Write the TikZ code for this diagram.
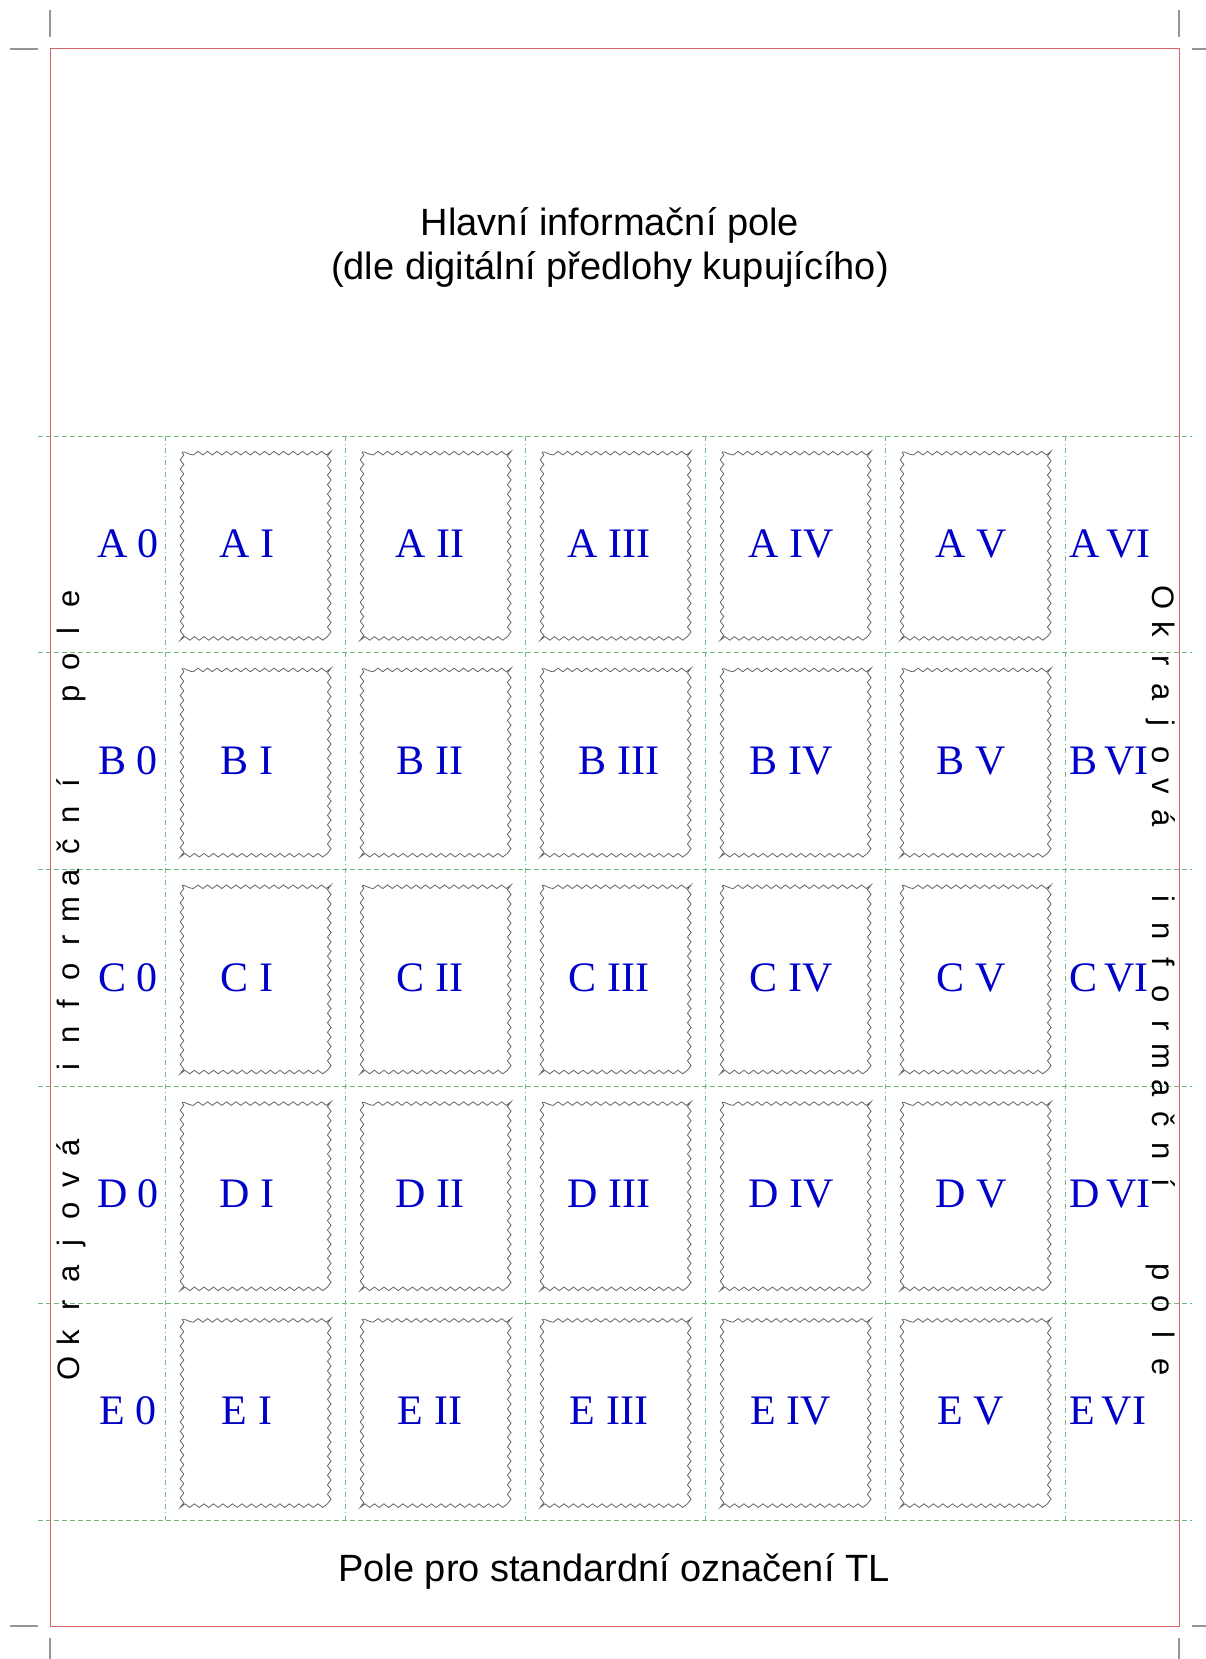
\documentclass[tikz,border=0pt]{standalone}
\usepackage{fontspec}
\setmainfont{Liberation Serif}
\newfontfamily\arialfont{Liberation Sans}
\usetikzlibrary{decorations.pathmorphing}

\definecolor{framered}{RGB}{214,98,98}
\definecolor{gridgreen}{RGB}{112,186,130}
\definecolor{labelblue}{RGB}{0,0,200}
\definecolor{cropgray}{RGB}{150,150,150}
\definecolor{stampgray}{RGB}{100,100,100}

% one letter per fixed slot
\newcommand\tracked[1]{\foreach \ch in {#1}{\makebox[31.5pt]{\ch}}}

\tikzset{
  hgrid/.style={gridgreen, line width=0.9pt, dash pattern=on 5pt off 3pt},
  vgrid/.style={gridgreen, line width=0.9pt, dash pattern=on 5pt off 3pt on 1pt off 3pt},
  perforated/.style={stampgray, line width=0.8pt, decorate,
    decoration={snake, segment length=9.5pt, amplitude=1.8pt}},
  cropmark/.style={cropgray, line width=1.4pt},
  cellname/.style={labelblue, font=\fontsize{42}{48}\selectfont, inner sep=0pt},
  infotext/.style={font=\arialfont\fontsize{38}{44}\selectfont, inner sep=0pt},
  sidetext/.style={font=\arialfont\fontsize{31}{36}\selectfont, inner sep=0pt},
}

\begin{document}
\begin{tikzpicture}[x=1pt, y=-1pt]
	\useasboundingbox (0,0) rectangle (1206,1659);
	% crop marks
	\draw[cropmark] (50,10) -- (50,37);
	\draw[cropmark] (10,49) -- (38,49);
	\draw[cropmark] (1179,10) -- (1179,37);
	\draw[cropmark] (1192,49) -- (1206,49);
	\draw[cropmark] (10,1626) -- (38,1626);
	\draw[cropmark] (50,1638) -- (50,1659);
	\draw[cropmark] (1192,1626) -- (1206,1626);
	\draw[cropmark] (1179,1638) -- (1179,1659);
	% grid
	\foreach \r in {0,...,5}
		\draw[hgrid] (38,436+216.8*\r) -- (1192,436+216.8*\r);
	\foreach \c in {0,...,5}
		\draw[vgrid] (165+180*\c,436) -- (165+180*\c,1520);
	% page frame
	\draw[framered, line width=1pt] (50,49) rectangle (1179,1626);
	% stamps
	\foreach \r in {0,...,4}
		\foreach \c in {0,...,4}
			\draw[perforated] (182+180*\c,452+216.8*\r) rectangle (330+180*\c,636+216.8*\r);
	% texts
	\node[infotext, anchor=base] (title) at (610,235) {Hlavní informační pole};
	\node[infotext, anchor=base] (subtitle) at (610,279) {(dle digitální předlohy kupujícího)};
	\node[infotext, anchor=base] (tlfield) at (614,1581) {Pole pro standardní označení TL};
	\node[sidetext, rotate=90, anchor=base] (leftfield) at (79,984)
		{\tracked{O,k,r,a,j,o,v,á}\hspace{50pt}\tracked{i,n,f,o,r,m,a,č,n,í}\hspace{58pt}\tracked{p,o,l,e}};
	\node[sidetext, rotate=-90, anchor=base] (rightfield) at (1152,982)
		{\tracked{O,k,r,a,j,o,v,á}\hspace{50pt}\tracked{i,n,f,o,r,m,a,č,n,í}\hspace{58pt}\tracked{p,o,l,e}};
	% cell names
	\foreach \row [count=\r from 0] in {A,B,C,D,E} {
		\foreach \num/\xc [count=\c from 0] in {0/128,I/247,II/430,III/609,IV/791,V/971} {
			\pgfmathsetmacro\dx{(\r==1 && \c==3) ? 10 : 0}
			\node[cellname, anchor=base] (\row-\c) at (\xc+\dx,557.4+216.8*\r) {\row\ \num};
		}
		\node[cellname, anchor=base west] (\row-6) at (1069,557.4+216.8*\r) {\row\,VI};
	}
\end{tikzpicture}
\end{document}
